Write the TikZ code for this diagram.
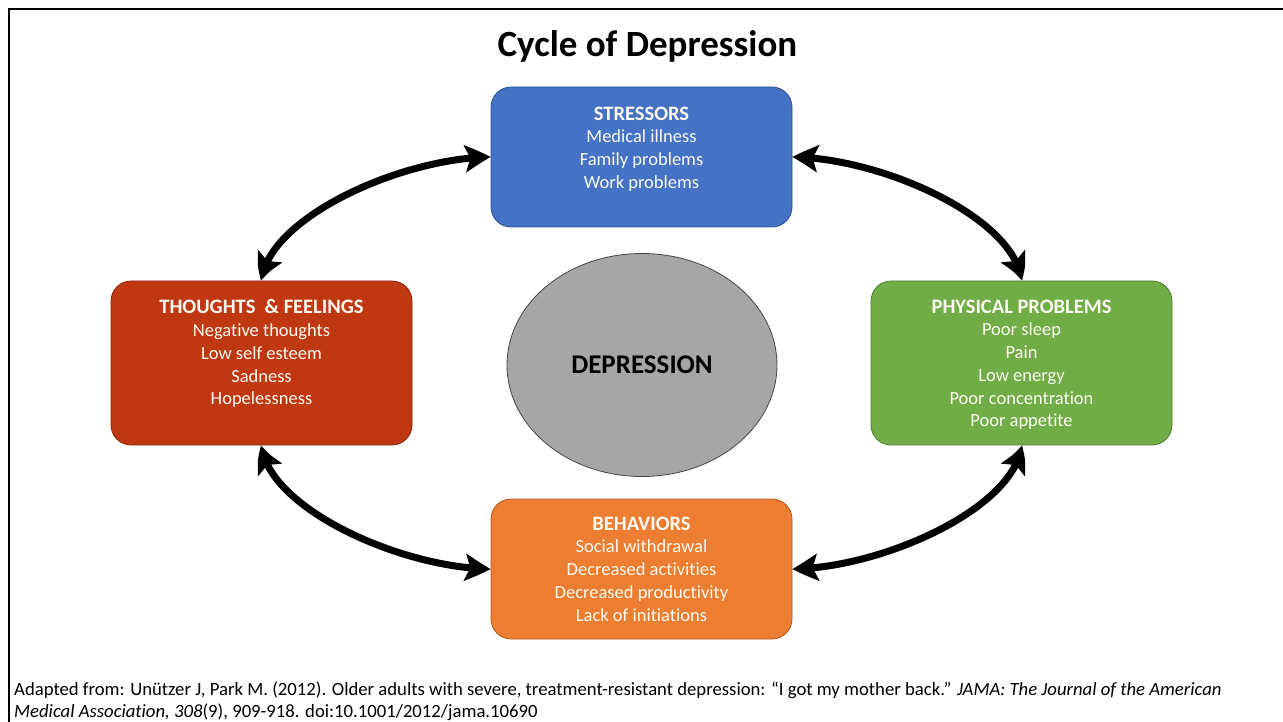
\documentclass[tikz,border=0pt]{standalone}
\usepackage{fontspec}
\setmainfont{Carlito}[Ligatures=NoCommon]
\usetikzlibrary{arrows.meta,shapes.geometric,bending}
\definecolor{cblue}{RGB}{68,114,196}
\definecolor{cblueD}{RGB}{47,82,143}
\definecolor{cred}{RGB}{192,56,18}
\definecolor{credD}{RGB}{140,40,12}
\definecolor{cgreen}{RGB}{112,173,71}
\definecolor{cgreenD}{RGB}{80,126,50}
\definecolor{corange}{RGB}{237,125,49}
\definecolor{corangeD}{RGB}{174,90,33}
\definecolor{cgray}{RGB}{166,166,166}
\definecolor{cgrayD}{RGB}{70,70,70}
\definecolor{ctext}{RGB}{252,250,240}
\newcommand{\boxhead}[1]{{\fontsize{20.5}{22.7}\selectfont\bfseries #1}}
\tikzset{
  box/.style={rectangle, rounded corners=20pt, minimum width=301pt, line width=0.8pt, inner sep=0pt},
  boxtext/.style={align=center, inner sep=0pt, text=ctext, font=\fontsize{18.5}{22.7}\selectfont, anchor=north},
  cyclearrow/.style={line width=7pt, {Stealth[length=25pt,width=27pt,inset=5pt,bend]}-{Stealth[length=25pt,width=27pt,inset=5pt,bend]}}
}
\begin{document}
\begin{tikzpicture}[x=1pt,y=-1pt]
\useasboundingbox (0,0) rectangle (1283,722);
\fill[white] (0,0) rectangle (1283,722);
\draw[line width=2.5pt] (9,722) -- (9,9) -- (1283,9);

\node[anchor=base, font=\fontsize{37}{42}\selectfont\bfseries] (title) at (647.5,57) {Cycle of Depression};

\node[box, fill=cblue, draw=cblueD, minimum height=140pt] (str) at (641.5,157) {};
\node[box, fill=cred, draw=credD, minimum height=164pt] (tho) at (261.5,363) {};
\node[box, fill=cgreen, draw=cgreenD, minimum height=164pt] (phy) at (1021.5,363) {};
\node[box, fill=corange, draw=corangeD, minimum height=140pt] (beh) at (641.5,569) {};

\node[boxtext] (strt) at ([yshift=-20pt]str.north) {\boxhead{STRESSORS}\\Medical illness\\Family problems\\Work problems};
\node[boxtext] (thot) at ([yshift=-19pt]tho.north) {\boxhead{THOUGHTS\ \ \& FEELINGS}\\Negative thoughts\\Low self esteem\\Sadness\\Hopelessness};
\node[boxtext] (phyt) at ([yshift=-19pt]phy.north) {\boxhead{PHYSICAL PROBLEMS}\\Poor sleep\\Pain\\Low energy\\Poor concentration\\Poor appetite};
\node[boxtext] (beht) at ([yshift=-18pt]beh.north) {\boxhead{BEHAVIORS}\\Social withdrawal\\Decreased activities\\Decreased productivity\\Lack of initiations};

\node[ellipse, fill=cgray, draw=cgrayD, line width=0.8pt, minimum width=270pt, minimum height=223pt, inner sep=0pt, font=\fontsize{27}{32}\selectfont\bfseries] (dep) at (642,365) {DEPRESSION};

\draw[cyclearrow] (tho.north) .. controls (268,218) and (400,158) .. (str.west);
\draw[cyclearrow] (str.east) .. controls (883,158) and (1015,218) .. (phy.north);
\draw[cyclearrow] (tho.south) .. controls (268,508) and (400,568) .. (beh.west);
\draw[cyclearrow] (beh.east) .. controls (883,568) and (1015,508) .. (phy.south);

\node[anchor=north west, align=left, inner sep=0pt, font=\fontsize{18.7}{21.5}\selectfont] (cite) at (14,682) {Adapted from: Unützer J, Park M. (2012). Older adults with severe, treatment-resistant depression: “I got my mother back.” \textit{JAMA: The Journal of the American}\\\textit{Medical Association, 308}(9), 909-918. doi:10.1001/2012/jama.10690};
\end{tikzpicture}
\end{document}
